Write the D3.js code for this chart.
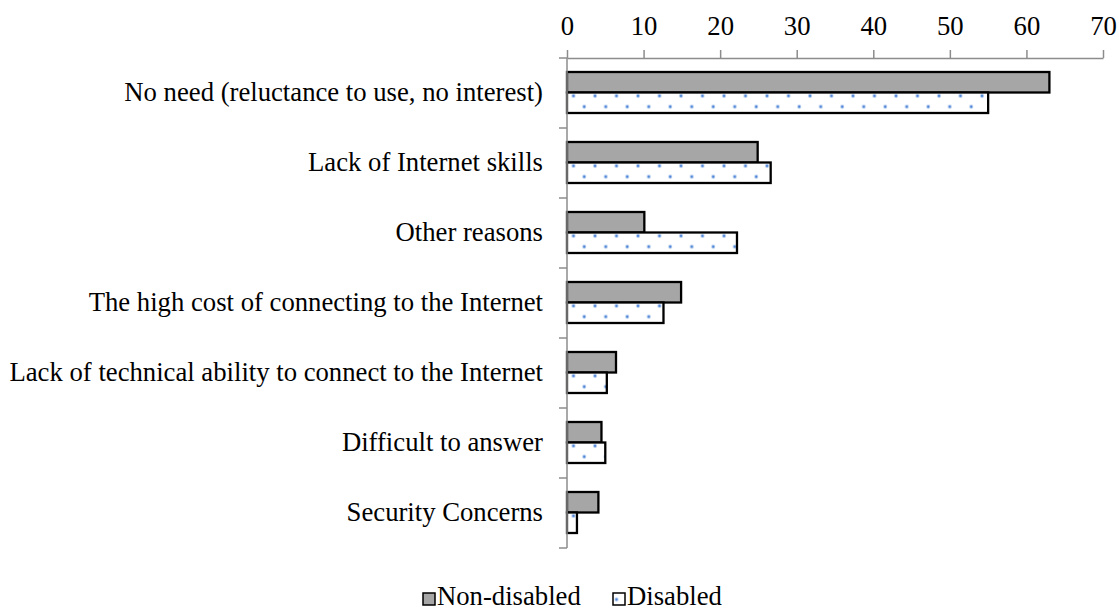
<!DOCTYPE html>
<html>
<head>
<meta charset="utf-8">
<script src="https://cdn.jsdelivr.net/npm/d3@7"></script>
<style>
  html, body { margin: 0; padding: 0; background: #fff; }
  svg { display: block; }
  text { font-family: "Liberation Serif", "Times New Roman", serif; fill: #000; }
</style>
</head>
<body>
<svg id="chart" width="1119" height="610"></svg>
<script>
const categories = [
  "No need (reluctance to use, no interest)",
  "Lack of Internet skills",
  "Other reasons",
  "The high cost of connecting to the Internet",
  "Lack of technical ability to connect to the Internet",
  "Difficult to answer",
  "Security Concerns"
];
const seriesNames = ["Non-disabled", "Disabled"];
const nonDisabled = [63.0, 24.9, 10.1, 14.9, 6.4, 4.5, 4.1];
const disabled = [55.0, 26.6, 22.2, 12.6, 5.2, 5.0, 1.3];
const xTicks = [0, 10, 20, 30, 40, 50, 60, 70];

const svg = d3.select("#chart");
const FONT = 26.7;

const x = d3.scaleLinear().domain([0, 70]).range([567, 1103]);
const y0 = d3.scaleBand().domain(categories).range([58, 548]).padding(0);
const y1 = d3.scaleBand().domain(seriesNames).range([14, 55]).padding(0);

// pattern for Disabled
const defs = svg.append("defs");
const pat = defs.append("pattern")
  .attr("id", "dots")
  .attr("patternUnits", "userSpaceOnUse")
  .attr("x", 573.5 - 5).attr("y", 102.7 - 5)
  .attr("width", 21.5).attr("height", 21.6);
pat.append("rect").attr("width", 21.5).attr("height", 21.6).attr("fill", "#fff");
[[5, 5], [15.75, 15.8]].forEach(([cx, cy]) => {
  pat.append("circle").attr("cx", cx).attr("cy", cy).attr("r", 2).attr("fill", "#aac5ec");
  pat.append("circle").attr("cx", cx).attr("cy", cy).attr("r", 1.1).attr("fill", "#3f7bd4");
});

// axes
const xAxis = d3.axisTop(x).tickValues(xTicks).tickSize(8).tickPadding(15).tickSizeOuter(0);
const gx = svg.append("g").attr("transform", `translate(0,${y0.range()[0]})`).call(xAxis);
gx.selectAll("path, line").attr("stroke", "#8c8c8c").attr("stroke-width", 1.5);
gx.selectAll("text").attr("font-size", FONT).attr("font-family", "Liberation Serif");

// bars
const groups = svg.append("g").selectAll("g")
  .data(categories.map((c, i) => ({ c, vals: [nonDisabled[i], disabled[i]] })))
  .join("g")
  .attr("transform", d => `translate(0,${y0(d.c)})`);

groups.selectAll("rect")
  .data(d => d.vals.map((v, j) => ({ s: seriesNames[j], v })))
  .join("rect")
  .attr("x", x(0))
  .attr("y", d => y1(d.s))
  .attr("width", d => x(d.v) - x(0))
  .attr("height", y1.bandwidth())
  .attr("fill", d => d.s === "Non-disabled" ? "#a6a6a6" : "url(#dots)")
  .attr("stroke", "#000")
  .attr("stroke-width", 2.3);

// left axis (category) drawn after bars
const boundaries = categories.map(c => y0(c)).concat([y0.range()[1]]);
const gy = svg.append("g");
gy.append("line")
  .attr("x1", x(0)).attr("x2", x(0))
  .attr("y1", y0.range()[0]).attr("y2", y0.range()[1])
  .attr("stroke", "#8c8c8c").attr("stroke-width", 1.5);
gy.selectAll("line.tick").data(boundaries).join("line")
  .attr("class", "tick")
  .attr("x1", x(0) - 8).attr("x2", x(0))
  .attr("y1", d => d).attr("y2", d => d)
  .attr("stroke", "#8c8c8c").attr("stroke-width", 1.5);

// category labels
svg.append("g").selectAll("text").data(categories).join("text")
  .attr("x", x(0) - 24)
  .attr("y", d => y0(d) + y0.bandwidth() / 2 + 8)
  .attr("text-anchor", "end")
  .attr("font-size", FONT)
  .text(d => d);

// legend
const legend = svg.append("g");
const legendItems = [
  { name: "Non-disabled", sx: 423, fill: "#a6a6a6" },
  { name: "Disabled", sx: 613, fill: "url(#dots)" }
];
legendItems.forEach(it => {
  legend.append("rect")
    .attr("x", it.sx).attr("y", 593).attr("width", 12).attr("height", 12)
    .attr("fill", it.fill).attr("stroke", "#000").attr("stroke-width", 1.5);
  legend.append("text")
    .attr("x", it.sx + 14).attr("y", 605)
    .attr("font-size", FONT)
    .text(it.name);
});
</script>
</body>
</html>
